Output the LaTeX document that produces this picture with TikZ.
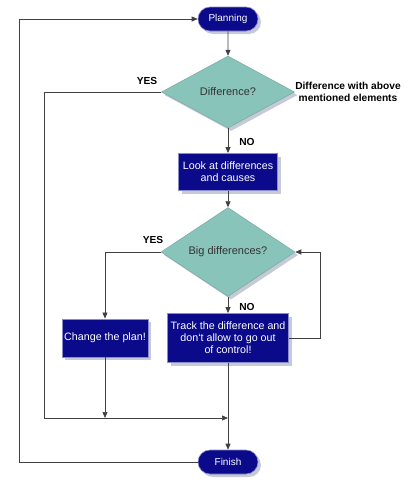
\documentclass[tikz,border=0pt]{standalone}
\usepackage{fontspec}
\setmainfont{Liberation Sans}
\usetikzlibrary{shapes.geometric,shapes.misc,arrows.meta,shadows}
\definecolor{navy}{HTML}{0A0A8A}
\definecolor{navyedge}{HTML}{8A8CC8}
\definecolor{teal}{HTML}{88C4BA}
\definecolor{tealedge}{HTML}{7AA8A2}
\definecolor{shade}{HTML}{C6CAD6}
\definecolor{linec}{HTML}{404040}
\tikzset{
  sh/.style={drop shadow={shadow xshift=3pt,shadow yshift=-3pt,fill=shade,opacity=1}},
  term/.style={rounded rectangle, fill=navy, draw=navyedge, line width=0.6pt, text=white,
     minimum width=60pt, minimum height=24pt, font=\fontsize{10}{12}\selectfont, sh, inner sep=0pt},
  proc/.style={rectangle, fill=navy, draw=navyedge, line width=0.8pt, text=white, align=center,
     font=\fontsize{10.7}{12}\selectfont, sh, inner sep=0pt},
  dec/.style={diamond, fill=teal, draw=tealedge, line width=0.5pt, text=black!80, sh, inner sep=0pt,
     font=\fontsize{11}{13}\selectfont},
  lbl/.style={font=\bfseries\fontsize{10.2}{12.5}\selectfont, align=center, inner sep=0pt},
  conn/.style={draw=linec, line width=0.7pt},
  arr/.style={conn, -{Triangle[length=6pt,width=5pt]}},
}
\begin{document}
\begin{tikzpicture}[x=1pt,y=-1pt]
\useasboundingbox (0,0) rectangle (412,480);
\node[term] (plan) at (228,19) {Planning};
\node[dec, minimum width=133pt, minimum height=72pt] (d1) at (228,92) {Difference?};
\node[proc, minimum width=99pt, minimum height=37pt] (look) at (228,172) {Look at differences\\and causes};
\node[dec, minimum width=134pt, minimum height=87pt] (d2) at (228,252) {Big differences?};
\node[proc, minimum width=86pt, minimum height=38pt] (chg) at (105,338) {Change the plan!};
\node[proc, minimum width=121pt, minimum height=49pt] (trk) at (228,338) {Track the difference and\\don`t allow to go out\\of control!};
\node[term] (fin) at (228,462) {Finish};

\node[lbl] (yes1) at (147,81) {YES};
\node[lbl] (note) at (348,92) {Difference with above\\mentioned elements};
\node[lbl] (no1) at (247,142) {NO};
\node[lbl] (yes2) at (153,240) {YES};
\node[lbl] (no2) at (247,307) {NO};

\coordinate (m1) at (228,418);
\coordinate (m2) at (105,418);

\draw[arr] (plan) -- (d1);
\draw[arr] (d1) -- (look);
\draw[arr] (look) -- (d2);
\draw[arr] (d2) -- (trk);
\draw[arr] (d2.west) -| (chg.north);
\draw[arr] (chg.south) -- (m2);
\draw[arr] (d1.west) -| (44,418) -- (m1);
\draw[arr] (trk.south) -- (fin.north);
\draw[arr] (trk.east) -| (320,252) -- (d2.east);
\draw[arr] (fin.west) -| (19,19) -- (plan.west);
\end{tikzpicture}
\end{document}
